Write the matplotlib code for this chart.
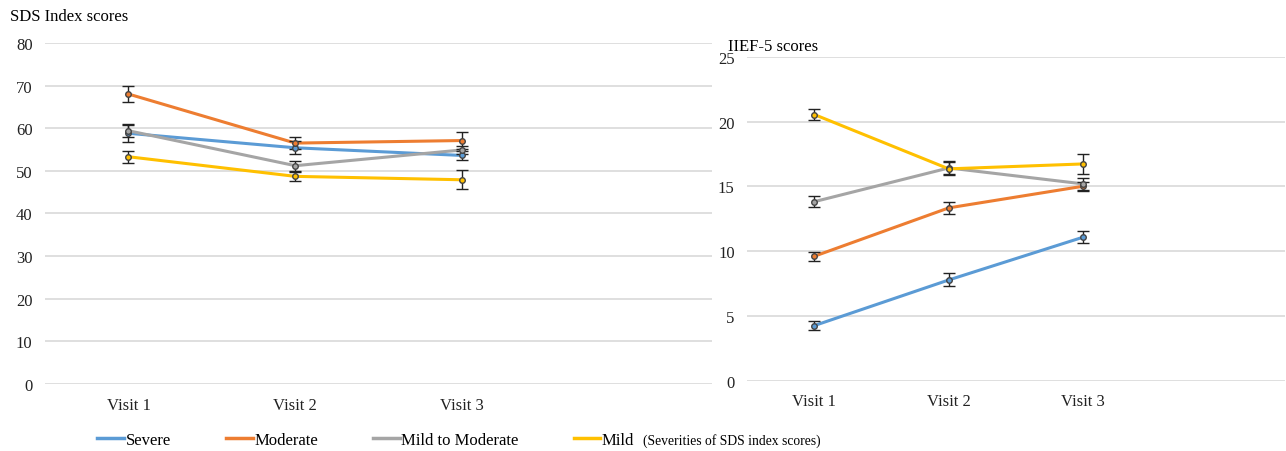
import matplotlib.pyplot as plt
from matplotlib.lines import Line2D

plt.rcParams['font.family'] = ['Liberation Serif', 'DejaVu Serif']

visits = ["Visit 1", "Visit 2", "Visit 3"]
series_names = ["Severe", "Moderate", "Mild to Moderate", "Mild"]
colors = ["#5B9BD5", "#ED7D31", "#A5A5A5", "#FFC000"]

# SDS index scores (mean, error)
sds_severe = [58.8, 55.4, 53.6]
sds_moderate = [68.0, 56.5, 57.1]
sds_mild_mod = [59.4, 51.2, 54.9]
sds_mild = [53.3, 48.7, 47.9]
sds_severe_err = [2.0, 1.5, 1.0]
sds_moderate_err = [1.9, 1.5, 2.1]
sds_mild_mod_err = [1.5, 1.2, 1.0]
sds_mild_err = [1.4, 1.0, 2.2]

# IIEF-5 scores (mean, error)
iief_severe = [4.27, 7.79, 11.09]
iief_moderate = [9.62, 13.35, 15.02]
iief_mild_mod = [13.83, 16.43, 15.2]
iief_mild = [20.55, 16.36, 16.74]
iief_severe_err = [0.35, 0.5, 0.45]
iief_moderate_err = [0.35, 0.45, 0.35]
iief_mild_mod_err = [0.4, 0.5, 0.45]
iief_mild_err = [0.4, 0.5, 0.75]

sds = [sds_severe, sds_moderate, sds_mild_mod, sds_mild]
sds_err = [sds_severe_err, sds_moderate_err, sds_mild_mod_err, sds_mild_err]
iief = [iief_severe, iief_moderate, iief_mild_mod, iief_mild]
iief_err = [iief_severe_err, iief_moderate_err, iief_mild_mod_err, iief_mild_err]

GRID = "#D9D9D9"
FS = 12

fig = plt.figure(figsize=(12.86, 4.52), dpi=100)
ax1 = fig.add_axes([0.035, 0.148, 0.519, 0.755])
ax2 = fig.add_axes([0.581, 0.155, 0.418, 0.717])


def draw_panel(ax, data, errs, ylim, step):
    x = list(range(len(visits)))
    for vals, err, col in zip(data, errs, colors):
        ax.plot(x, vals, color=col, lw=2.2, zorder=2)
        ax.errorbar(x, vals, yerr=err, fmt='none', ecolor='#222222',
                    elinewidth=1.0, capsize=4, capthick=1.0, zorder=3)
        ax.plot(x, vals, 'o', ms=4, mfc=col, mec='#444444', mew=1.0, zorder=4)
    ax.set_xlim(-0.5, 3.5)
    ax.set_ylim(*ylim)
    ax.set_yticks(range(ylim[0], ylim[1] + 1, step))
    ax.set_xticks(x)
    ax.set_xticklabels(visits)
    ax.yaxis.grid(True, color=GRID, lw=1.2)
    ax.set_axisbelow(True)
    for s in ax.spines.values():
        s.set_visible(False)
    ax.tick_params(length=0, labelsize=FS, colors='#222222')
    ax.tick_params(axis='x', pad=9)
    ax.tick_params(axis='y', pad=9)


draw_panel(ax1, sds, sds_err, (0, 80), 10)
draw_panel(ax2, iief, iief_err, (0, 25), 5)

fig.text(0.008, 0.962, "SDS Index scores", fontsize=FS, va='center', ha='left')
fig.text(0.566, 0.895, "IIEF-5 scores", fontsize=FS, va='center', ha='left')

handles = [Line2D([], [], color=c, lw=2.5) for c in colors]
leg = fig.legend(handles, series_names, loc='center left',
                 bbox_to_anchor=(0.064, 0.024), ncol=4, frameon=False,
                 handlelength=1.6, handletextpad=0.1, columnspacing=3.3,
                 fontsize=FS)
fig.text(0.5, 0.024, "(Severities of SDS index scores)", fontsize=9.8,
         va='center', ha='left')

fig.savefig("out.png", dpi=100)
